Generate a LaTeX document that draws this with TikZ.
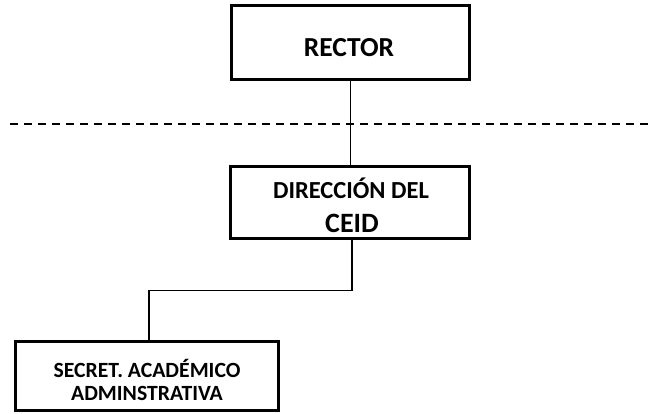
\documentclass[tikz,border=0pt]{standalone}
\usepackage{fontspec}
\setmainfont{Carlito}
\begin{document}
\begin{tikzpicture}[x=1pt,y=-1pt,
  box/.style={draw, line width=3pt, inner sep=0pt},
  lbl/.style={anchor=base, inner sep=0pt, font=\bfseries},
  conn/.style={line width=1.4pt},
  sep/.style={line width=1.8pt, dash pattern=on 7.5pt off 6.5pt}]
\useasboundingbox (0,0) rectangle (653,413);
% boxes
\node[box, minimum width=238pt, minimum height=74pt] (rector) at (350.5,42.5) {};
\node[box, minimum width=239pt, minimum height=72pt] (dir) at (350,202.5) {};
\node[box, minimum width=263pt, minimum height=69pt] (sec) at (147,376) {};
% texts
\node[lbl, font=\bfseries\fontsize{27.5}{32}\selectfont] (rectorT) at (349,56) {RECTOR};
\node[lbl, font=\bfseries\fontsize{24.5}{28}\selectfont] (dirT1) at (351,198.5) {DIRECCIÓN DEL};
\node[lbl, font=\bfseries\fontsize{28}{32}\selectfont] (dirT2) at (352,232) {CEID};
\node[lbl, font=\bfseries\fontsize{21.7}{26}\selectfont] (secT1) at (147,377) {SECRET. ACADÉMICO};
\node[lbl, font=\bfseries\fontsize{21.7}{26}\selectfont] (secT2) at (147,400.5) {ADMINSTRATIVA};
% dashed separator
\coordinate (dl) at (10,124.3);
\coordinate (dr) at (648,124.3);
\draw[sep] (dl) -- (dr);
% connectors
\draw[conn] (rector.south) -- (rector.south |- dir.north);
\coordinate (dsrc) at ([xshift=2pt]dir.south);
\coordinate (sdst) at ([xshift=2pt]sec.north);
\draw[conn] (dsrc) -- ++(0,50.5) -| (sdst);
\end{tikzpicture}
\end{document}
